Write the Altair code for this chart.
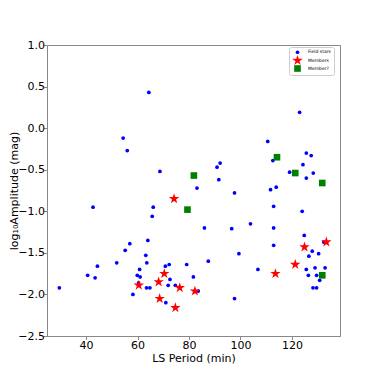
import altair as alt
import pandas as pd

field_x = [29.6, 40.6, 42.7, 43.5, 44.4, 51.9, 54.4, 56.0, 55.2, 57.0, 58.2, 59.9, 60.8, 61.0, 60.4,
           63.2, 63.6, 64.0, 64.4, 63.5, 64.8, 65.7, 66.1, 68.7, 70.8, 71.0, 71.9, 72.3, 72.6, 74.7,
           79.1, 81.7, 83.6, 83.1, 86.0, 87.5, 90.9, 92.1, 91.6, 96.6, 97.7, 97.7, 99.4, 103.9, 106.8,
           110.6, 111.7, 112.6, 112.9, 112.9, 112.9, 113.9, 119.1, 123.0, 124.0, 124.3, 124.8, 125.6,
           125.6, 127.5, 128.3, 125.6, 126.4, 126.6, 127.9, 128.2, 129.6, 129.0, 129.6, 130.4, 130.8,
           132.9, 132.4]
field_y = [-1.92, -1.77, -0.95, -1.80, -1.66, -1.62, -0.12, -0.27, -1.47, -1.39, -2.00, -1.77, -1.70, -1.79, -1.86,
           -1.53, -1.62, -1.35, 0.43, -1.92, -1.92, -1.06, -0.95, -0.52, -1.66, -2.10, -1.89, -1.64, -1.82, -1.89,
           -1.64, -1.79, -1.96, -0.72, -1.20, -1.60, -0.47, -0.42, -0.62, -1.21, -0.78, -2.05, -1.51, -1.15, -1.70,
           -0.16, -0.74, -0.39, -0.94, -1.20, -1.41, -0.71, -0.53, 0.19, -1.00, -0.44, -1.29, -0.30,
           -0.60, -0.33, -0.54, -1.70, -1.77, -1.54, -1.48, -1.92, -1.92, -1.68, -1.77, -1.51, -1.83,
           -1.68, -1.37]

member_x = [60.5, 68.2, 68.6, 70.4, 74.2, 74.7, 76.4, 82.3, 113.6, 121.3, 124.9, 133.4]
member_y = [-1.89, -1.85, -2.05, -1.75, -0.85, -2.16, -1.92, -1.96, -1.75, -1.64, -1.43, -1.37]

maybe_x = [81.9, 79.4, 114.2, 121.3, 131.8, 131.8]
maybe_y = [-0.57, -0.98, -0.35, -0.54, -0.66, -1.77]

labels = ["Field stars", "Members", "Member?"]
colors = ["#0000ff", "#ff0000", "#008000"]
STAR = ("M0,-1L0.2245,-0.309L0.9511,-0.309L0.3633,0.118L0.5878,0.809L0,0.382"
        "L-0.5878,0.809L-0.3633,0.118L-0.9511,-0.309L-0.2245,-0.309Z")
shapes = ["circle", STAR, "square"]
sizes = [14, 120, 44]

rows = []
for x, y in zip(field_x, field_y):
    rows.append({"period": x, "amp": y, "type": labels[0], "order": 0})
for x, y in zip(member_x, member_y):
    rows.append({"period": x, "amp": y, "type": labels[1], "order": 1})
for x, y in zip(maybe_x, maybe_y):
    rows.append({"period": x, "amp": y, "type": labels[2], "order": 2})
df = pd.DataFrame(rows)

font = "DejaVu Sans"
legend = alt.Legend(title=None, orient="none", legendX=242, legendY=2,
                    labelFontSize=4.5, labelFont=font, symbolStrokeWidth=0,
                    rowPadding=-2.5, padding=3, strokeColor="#cccccc", fillColor="white",
                    cornerRadius=2, labelOffset=5, symbolOpacity=1)

axis_common = dict(grid=False, labelFontSize=11, titleFontSize=11, labelFont=font, titleFont=font,
                   titleFontWeight="normal", labelColor="black", titleColor="black",
                   tickColor="#888888", domainColor="#888888", tickSize=3.5, tickWidth=1,
                   domainWidth=1)

chart = alt.Chart(df).mark_point(filled=True, opacity=1).encode(
    x=alt.X("period:Q", scale=alt.Scale(domain=[24.8, 138.7], nice=False, zero=False),
            axis=alt.Axis(title="LS Period (min)", values=[40, 60, 80, 100, 120],
                          labelPadding=0, titlePadding=1.5, **axis_common)),
    y=alt.Y("amp:Q", scale=alt.Scale(domain=[-2.5, 1.0], nice=False, zero=False),
            axis=alt.Axis(title="log₁₀Amplitude (mag)", values=[-2.5, -2.0, -1.5, -1.0, -0.5, 0.0, 0.5, 1.0],
                          format=".1f", labelPadding=-1, titleX=-27.5, **axis_common)),
    color=alt.Color("type:N", scale=alt.Scale(domain=labels, range=colors), legend=legend),
    shape=alt.Shape("type:N", scale=alt.Scale(domain=labels, range=shapes), legend=legend),
    size=alt.Size("type:N", scale=alt.Scale(type="ordinal", domain=labels, range=sizes), legend=legend),
    order=alt.Order("order:Q"),
).properties(
    width=293, height=291,
    autosize=alt.AutoSizeParams(type="none"),
    padding={"left": 39, "top": 37, "right": 30, "bottom": 34},
).configure_view(stroke="#888888", strokeWidth=1)

chart.save("out.html", embed_options={"renderer": "svg", "actions": False})
